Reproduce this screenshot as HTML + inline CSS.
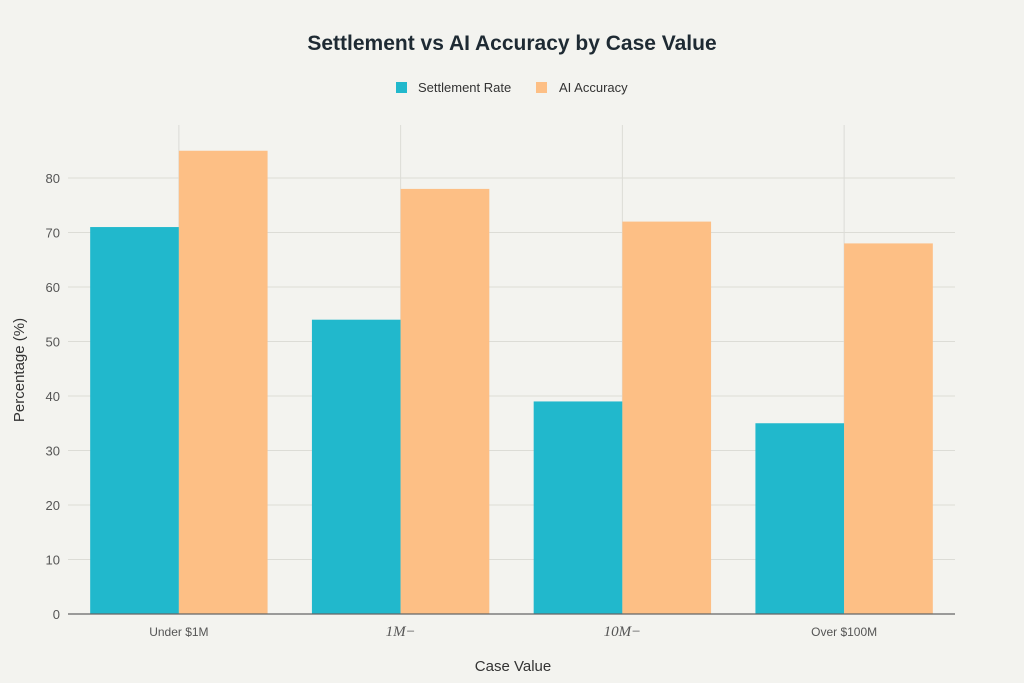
<!DOCTYPE html>
<html><head><meta charset="utf-8"><style>
html,body{margin:0;padding:0;background:#f3f3ef;}
svg{display:block;font-family:"Liberation Sans",sans-serif;}
</style></head><body>
<svg id="chart" width="1024" height="683" viewBox="0 0 1024 683">
<rect width="1024" height="683" fill="#f3f3ef"/>
<text x="512" y="50" text-anchor="middle" font-size="21" font-weight="bold" fill="#1e2a33">Settlement vs AI Accuracy by Case Value</text>
<g>
<g><rect x="396" y="82" width="11" height="11" fill="#21b8cc"/><text x="418" y="92" font-size="13" fill="#333">Settlement Rate</text></g>
<g><rect x="536" y="82" width="11" height="11" fill="#fdbf85"/><text x="559" y="92" font-size="13" fill="#333">AI Accuracy</text></g>
</g>
<g id="grid"></g><g id="bars"></g><g id="axes"></g>
<text x="513" y="671" text-anchor="middle" font-size="15" fill="#333">Case Value</text>
<text transform="translate(24,370) rotate(-90)" text-anchor="middle" font-size="15" fill="#333">Percentage (%)</text>
</svg>
<script>
const categories = ["Under $1M", "1M\u2212", "10M\u2212", "Over $100M"];
const settlementRate = [71, 54, 39, 35];
const aiAccuracy = [85, 78, 72, 68];
const yTicks = [0, 10, 20, 30, 40, 50, 60, 70, 80];
const NS = "http://www.w3.org/2000/svg";
const x0 = 68, x1 = 955, yBase = 614, pxPer = 5.45, plotTop = 125;
const band = (x1 - x0) / categories.length;
const y = v => yBase - v * pxPer;
const xc = i => x0 + band * (i + 0.5);
function mk(tag, attrs, parent) { const e = document.createElementNS(NS, tag); for (const k in attrs) e.setAttribute(k, attrs[k]); parent.appendChild(e); return e; }
const grid = document.getElementById("grid"), bars = document.getElementById("bars"), axes = document.getElementById("axes");
yTicks.forEach(t => {
  if (t > 0) {
    const l = mk("line", {x1: x0, x2: x1, y1: y(t), y2: y(t), stroke: "#dcdcd6", "stroke-width": 1}, grid);
    
    
  }
  const tx = mk("text", {x: 60, y: y(t) + 5, "text-anchor": "end", "font-size": 13, fill: "#555"}, axes);
  tx.textContent = t;
  
  
});
categories.forEach((c, i) => {
  const g = mk("line", {x1: xc(i), x2: xc(i), y1: plotTop, y2: yBase, stroke: "#dcdcd6", "stroke-width": 1}, grid);
  
  
  const bw = band * 0.4;
  const b1 = mk("rect", {x: xc(i) - bw, y: y(settlementRate[i]), width: bw, height: yBase - y(settlementRate[i]), fill: "#21b8cc"}, bars);
  
  
  const b2 = mk("rect", {x: xc(i), y: y(aiAccuracy[i]), width: bw, height: yBase - y(aiAccuracy[i]), fill: "#fdbf85"}, bars);
  
  
  const math = c.indexOf("$") < 0;
  const tx = mk("text", {x: xc(i), y: 636, "text-anchor": "middle", "font-size": math ? 15 : 12, fill: "#555", "font-family": math ? "Liberation Serif, serif" : "Liberation Sans, sans-serif", "font-style": math ? "italic" : "normal"}, axes);
  tx.textContent = c;
  
  
});
const ax = mk("line", {x1: x0, x2: x1, y1: yBase, y2: yBase, stroke: "#666", "stroke-width": 1.2}, axes);


</script>
</body></html>
